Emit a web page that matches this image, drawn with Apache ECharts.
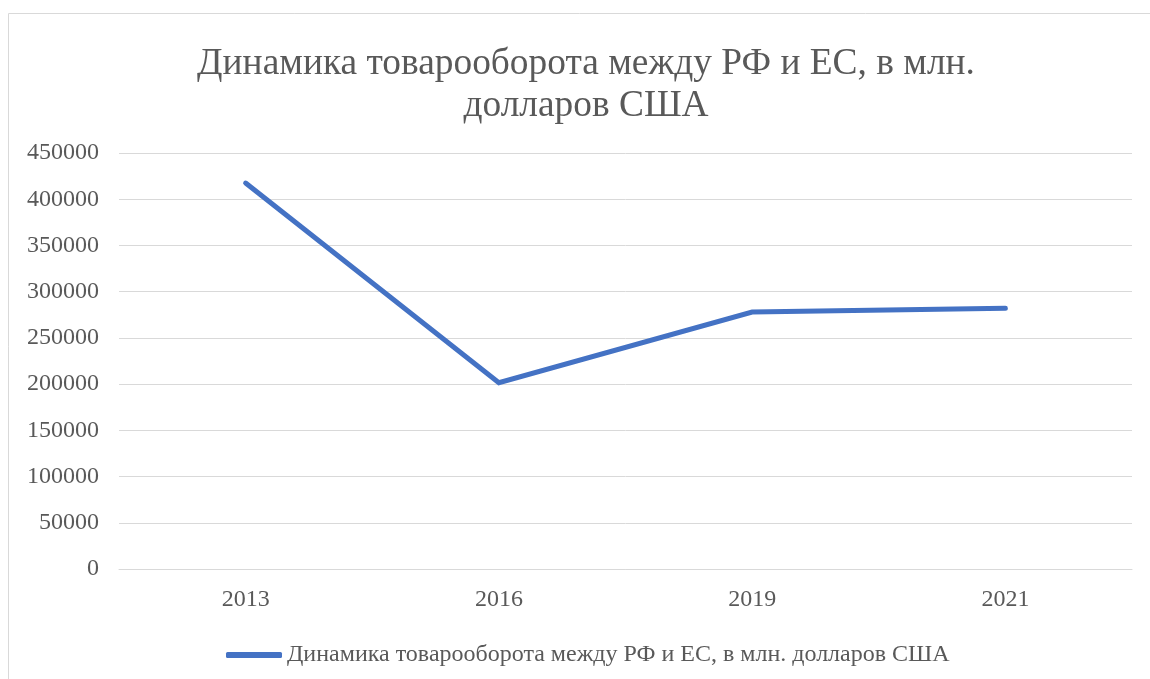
<!DOCTYPE html>
<html><head><meta charset="utf-8">
<script src="https://cdn.jsdelivr.net/npm/echarts@6/dist/echarts.min.js"></script>
<style>html,body{margin:0;padding:0;background:#fff}#c{width:1150px;height:679px}</style>
</head><body><div id="c"></div>
<script>
const categories = ['2013', '2016', '2019', '2021'];
const seriesName = 'Динамика товарооборота между РФ и ЕС, в млн. долларов США';
const values = [417500, 201500, 278000, 282000];
const titleText = 'Динамика товарооборота между РФ и ЕС, в млн.\nдолларов США';

const font = '"Liberation Serif", "Times New Roman", serif';
const chart = echarts.init(document.getElementById('c'));
chart.setOption({
  animation: false,
  graphic: [
    {type:'rect', shape:{x:8.5,y:13.5,width:1200,height:700}, style:{fill:'none', stroke:'#d9d9d9', lineWidth:1}},
    {type:'text', x:586, y:43, style:{text:titleText, fontFamily:font, fontSize:37.4, fill:'#595959',
      lineHeight:42, textAlign:'center', textVerticalAlign:'top', align:'center', verticalAlign:'top'}}
  ],
  legend: {data:[seriesName], top: 638, left: 221, itemWidth: 56, itemHeight: 6, itemGap: 4,
    textStyle:{fontFamily:font, fontSize:24, color:'#595959'}, icon: 'roundRect'},
  grid: {left:119, right:18, top:153, bottom:110},
  xAxis: {type:'category', data: categories, boundaryGap: true,
    axisLine:{lineStyle:{color:'#d9d9d9'}}, axisTick:{show:false},
    axisLabel:{fontFamily:font, fontSize:24, color:'#595959', margin:19}},
  yAxis: {type:'value', min:0, max:450000, interval:50000,
    axisLine:{show:false}, axisTick:{show:false},
    splitLine:{lineStyle:{color:'#d9d9d9', width:1}},
    axisLabel:{fontFamily:font, fontSize:24, color:'#595959', margin:20, formatter: v => String(v)}},
  series: [{name: seriesName, type:'line', data: values, symbol:'none',
    lineStyle:{color:'#4472c4', width:5, cap:'round', join:'miter'}, itemStyle:{color:'#4472c4'}}]
});
</script></body></html>
